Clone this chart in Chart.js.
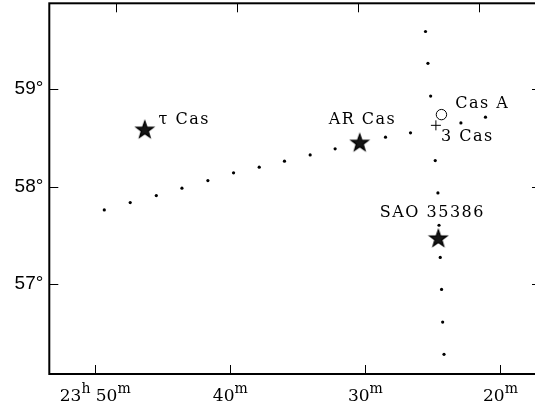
<!DOCTYPE html>
<html><head><meta charset="utf-8">
<script src="https://cdn.jsdelivr.net/npm/chart.js@4"></script>
<style>html,body{margin:0;padding:0;overflow:hidden;background:#fff}#wrap{width:545px;height:406px;position:relative}</style>
</head><body><div id="wrap"><canvas id="c"></canvas></div>
<script>
// ---- data (RA in minutes past 23h, Dec in degrees) ----
const RA_TICKS = [50, 40, 30, 20];
const RA_TICK_LABELS = ['23^h 50^m', '40^m', '30^m', '20^m'];
const DEC_TICKS = [57, 58, 59];
const DEC_TICK_LABELS = ['57°', '58°', '59°'];

const rowRA  = [49.33, 47.41, 45.48, 43.58, 41.66, 39.76, 37.86, 35.99, 34.09, 32.24, 28.51, 26.66, 22.93, 21.11];
const rowDec = [57.762, 57.837, 57.909, 57.985, 58.063, 58.142, 58.200, 58.262, 58.326, 58.388, 58.508, 58.552, 58.654, 58.713];
const colRA  = [25.55, 25.37, 25.17, 24.83, 24.63, 24.55, 24.46, 24.36, 24.28, 24.18];
const colDec = [59.591, 59.265, 58.929, 58.268, 57.936, 57.605, 57.275, 56.947, 56.612, 56.282];

const starNames = ['τ Cas', 'AR Cas', 'SAO 35386'];
const starRA    = [46.33, 30.42, 24.60];
const starDec   = [58.590, 58.456, 57.475];

const snrNames = ['Cas A'];
const snrRA    = [24.37];
const snrDec   = [58.739];

const refNames = ['3 Cas'];
const refRA    = [24.78];
const refDec   = [58.629];

// ---- label placement styles (pixel offsets from the marker) ----
const LABEL_STYLE = {
  'τ Cas':     {align: 'left',   dx: 13.7, dy: -5.3},
  'AR Cas':    {align: 'center', dx: 2,    dy: -18},
  'SAO 35386': {align: 'center', dx: -6.7, dy: -21.3},
  'Cas A':     {align: 'left',   dx: 13.7, dy: -6.4},
  '3 Cas':     {align: 'left',   dx: 5,    dy: 15.2}
};

function pts(xs, ys) { return xs.map((x, i) => ({x: x, y: ys[i]})); }

function makeStar(R) {
  const s = Math.ceil(R * 2 + 4);
  const c = document.createElement('canvas');
  c.width = s; c.height = s;
  const g = c.getContext('2d');
  const cx = s / 2, cy = s / 2 + 0.095 * R;
  const r = R * 0.40;
  g.beginPath();
  for (let i = 0; i < 10; i++) {
    const a = -Math.PI / 2 + i * Math.PI / 5;
    const rr = (i % 2 === 0) ? R : r;
    const px = cx + rr * Math.cos(a), py = cy + rr * Math.sin(a);
    if (i === 0) g.moveTo(px, py); else g.lineTo(px, py);
  }
  g.closePath();
  g.fillStyle = '#161616';
  g.fill();
  g.lineWidth = 1.3;
  g.strokeStyle = '#000';
  g.lineJoin = 'miter';
  g.stroke();
  return c;
}
const STAR_IMG = makeStar(9);

const bgPlugin = {
  id: 'bg',
  beforeDraw(chart) {
    const ctx = chart.ctx;
    ctx.save();
    ctx.fillStyle = '#fff';
    ctx.fillRect(0, 0, chart.width, chart.height);
    ctx.restore();
  }
};

const framePlugin = {
  id: 'frame',
  afterDatasetsDraw(chart) {
    const {ctx, chartArea: a, scales} = chart;
    ctx.save();
    ctx.strokeStyle = '#000';
    ctx.lineWidth = 2;
    ctx.strokeRect(a.left, a.top, a.right - a.left, a.bottom - a.top);
    ctx.lineWidth = 1;
    ctx.beginPath();
    RA_TICKS.forEach(v => {
      const xb = Math.round(scales.x.getPixelForValue(v)) + 0.5;
      ctx.moveTo(xb, a.bottom); ctx.lineTo(xb, a.bottom - 9);
      const xt = Math.round(scales.xTop.getPixelForValue(v)) + 0.5;
      ctx.moveTo(xt, a.top); ctx.lineTo(xt, a.top + 9);
    });
    DEC_TICKS.forEach(v => {
      const y = Math.round(scales.y.getPixelForValue(v)) + 0.5;
      ctx.moveTo(a.left, y); ctx.lineTo(a.left + 9, y);
      ctx.moveTo(a.right, y); ctx.lineTo(a.right - 9, y);
    });
    ctx.stroke();

    // bottom RA tick labels with superscripts
    const mainFont = '17px "DejaVu Serif"', supFont = '14px "DejaVu Serif"';
    const base = a.bottom + 27;
    ctx.fillStyle = '#000';
    ctx.textBaseline = 'alphabetic';
    ctx.textAlign = 'left';
    RA_TICKS.forEach((v, i) => {
      const segs = [];
      const s = RA_TICK_LABELS[i];
      for (let k = 0; k < s.length; k++) {
        if (s[k] === '^') { segs.push({t: s[k + 1], sup: true}); k++; }
        else {
          if (segs.length && !segs[segs.length - 1].sup) segs[segs.length - 1].t += s[k];
          else segs.push({t: s[k], sup: false});
        }
      }
      let total = 0;
      segs.forEach(sg => { ctx.font = sg.sup ? supFont : mainFont; sg.w = ctx.measureText(sg.t).width; total += sg.w; });
      let x = scales.x.getPixelForValue(v) - total / 2;
      segs.forEach(sg => {
        ctx.font = sg.sup ? supFont : mainFont;
        ctx.fillText(sg.t, x, sg.sup ? base - 8.5 : base);
        x += sg.w;
      });
    });

    // object labels
    ctx.font = '16px "DejaVu Serif"';
    if ('letterSpacing' in ctx) ctx.letterSpacing = '1.5px';
    const objs = [];
    starNames.forEach((n, i) => objs.push([n, starRA[i], starDec[i]]));
    snrNames.forEach((n, i) => objs.push([n, snrRA[i], snrDec[i]]));
    refNames.forEach((n, i) => objs.push([n, refRA[i], refDec[i]]));
    objs.forEach(([n, ra, dec]) => {
      const st = LABEL_STYLE[n];
      const px = scales.x.getPixelForValue(ra) + st.dx;
      const py = scales.y.getPixelForValue(dec) + st.dy;
      let x = px;
      if (st.align === 'center') x = px - (ctx.measureText(n).width - 1.5) / 2;
      ctx.textAlign = 'left';
      ctx.fillText(n, x, py);
    });
    ctx.restore();
  }
};

new Chart(document.getElementById('c'), {
  type: 'scatter',
  data: {
    datasets: [
      {label: 'row', data: pts(rowRA, rowDec), pointStyle: 'circle', pointRadius: 1.6,
       backgroundColor: '#000', borderColor: '#000', borderWidth: 0},
      {label: 'col', data: pts(colRA, colDec), pointStyle: 'circle', pointRadius: 1.6,
       backgroundColor: '#000', borderColor: '#000', borderWidth: 0},
      {label: 'stars', data: pts(starRA, starDec), pointStyle: STAR_IMG},
      {label: 'snr', data: pts(snrRA, snrDec), pointStyle: 'circle', pointRadius: 5.2,
       backgroundColor: 'rgba(255,255,255,0)', borderColor: '#000', borderWidth: 1},
      {label: 'ref', data: pts(refRA, refDec), pointStyle: 'cross', pointRadius: 5,
       borderColor: '#000', borderWidth: 1}
    ]
  },
  options: {
    responsive: true,
    maintainAspectRatio: false,
    animation: false,
    events: [],
    layout: {autoPadding: false, padding: {left: 0, top: 0, right: 4, bottom: 0}},
    plugins: {legend: {display: false}, tooltip: {enabled: false}},
    scales: {
      x: {
        type: 'linear', position: 'bottom', reverse: true, min: 17, max: 53.4,
        grid: {display: false}, border: {display: false}, ticks: {display: false},
        afterFit(s) { s.height = 32; s.paddingLeft = 0; s.paddingRight = 0; }
      },
      xTop: {
        type: 'linear', position: 'top', reverse: true, min: 14.88, max: 55.51,
        grid: {display: false}, border: {display: false}, ticks: {display: false},
        afterFit(s) { s.height = 3.3; s.paddingLeft = 0; s.paddingRight = 0; }
      },
      y: {
        type: 'linear', position: 'left', min: 56.08, max: 59.88,
        grid: {display: false, drawTicks: false}, border: {display: false},
        afterBuildTicks(s) { s.ticks = DEC_TICKS.map(v => ({value: v})); },
        ticks: {
          padding: 6, color: '#000',
          font: {family: '"Liberation Sans", Arial, sans-serif', size: 19},
          callback: (v) => { const i = DEC_TICKS.indexOf(v); return i >= 0 ? DEC_TICK_LABELS[i] : ''; }
        },
        afterFit(s) { s.width = 49.3; s.paddingTop = 0; s.paddingBottom = 0; }
      }
    }
  },
  plugins: [bgPlugin, framePlugin]
});
</script>
</body></html>
